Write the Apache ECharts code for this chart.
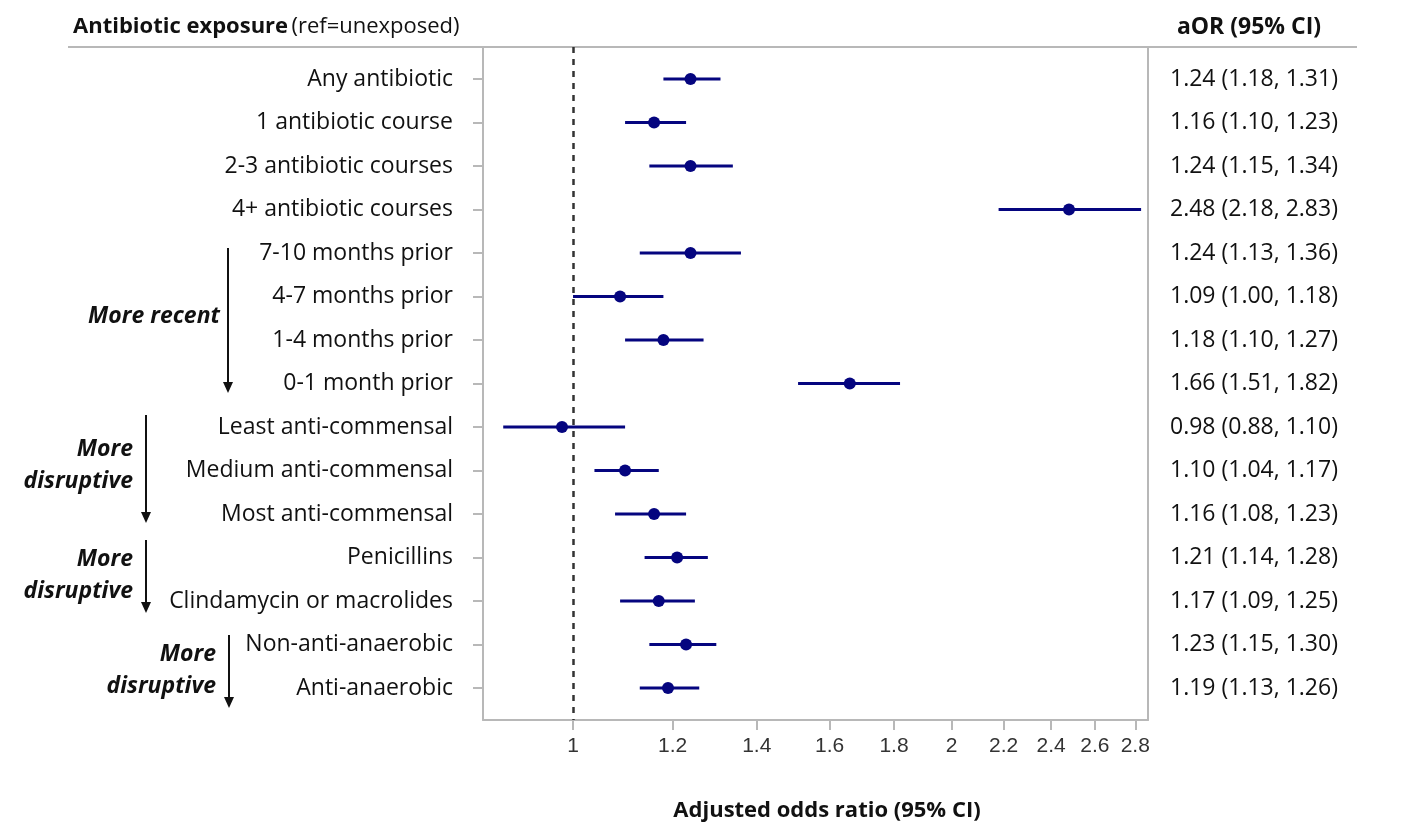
<!DOCTYPE html>
<html>
<head>
<meta charset="utf-8">
<script src="https://cdn.jsdelivr.net/npm/echarts@6/dist/echarts.min.js"></script>
<style>html,body{margin:0;padding:0;background:#fff}#c{width:1410px;height:838px}</style>
</head>
<body>
<div id="c"></div>
<script>
const categories = ["Any antibiotic","1 antibiotic course","2-3 antibiotic courses","4+ antibiotic courses","7-10 months prior","4-7 months prior","1-4 months prior","0-1 month prior","Least anti-commensal","Medium anti-commensal","Most anti-commensal","Penicillins","Clindamycin or macrolides","Non-anti-anaerobic","Anti-anaerobic"];
const aor   = [1.24,1.16,1.24,2.48,1.24,1.09,1.18,1.66,0.98,1.10,1.16,1.21,1.17,1.23,1.19];
const lower = [1.18,1.10,1.15,2.18,1.13,1.00,1.10,1.51,0.88,1.04,1.08,1.14,1.09,1.15,1.13];
const upper = [1.31,1.23,1.34,2.83,1.36,1.18,1.27,1.82,1.10,1.17,1.23,1.28,1.25,1.30,1.26];
const xTicks = [1,1.2,1.4,1.6,1.8,2,2.2,2.4,2.6,2.8];
const xMin = 0.848, xMax = 2.866;

const fmt = v => v.toFixed(2);
const ln = Math.log;
const rows = categories.map((_, i) => i);
const FONT = 'Open Sans';
const FS = 23;
const NAVY = '#05057f';
const GRAY = '#b8b8b8';

const chart = echarts.init(document.getElementById('c'));
const bi = {fontFamily: FONT, fontWeight: 'bold', fontStyle: 'italic', fontSize: FS, fill: '#111', verticalAlign: 'middle'};
chart.setOption({
  animation: false,
  grid: {left: 483, right: 262, top: 47, bottom: 118, containLabel: false},
  xAxis: {
    type: 'value', min: ln(xMin), max: ln(xMax),
    axisLine: {show: true, onZero: false, lineStyle: {color: GRAY, width: 2}},
    axisTick: {show: true, length: 10, lineStyle: {color: GRAY, width: 2}, customValues: xTicks.map(ln)},
    axisLabel: {customValues: xTicks.map(ln), formatter: v => String(Math.round(Math.exp(v) * 10) / 10),
      color: '#333', fontSize: 21, fontFamily: 'Liberation Sans', margin: 16},
    splitLine: {show: false}
  },
  yAxis: [{
    type: 'value', min: -0.736, max: 14.736, inverse: true,
    axisLine: {show: true, onZero: false, lineStyle: {color: GRAY, width: 2}},
    axisTick: {show: true, length: 10, lineStyle: {color: GRAY, width: 2}, customValues: rows},
    axisLabel: {customValues: rows, formatter: v => categories[Math.round(v)] || '',
      color: '#111', fontSize: FS, fontFamily: FONT, margin: 30},
    splitLine: {show: false}
  }, {
    type: 'value', position: 'right', min: -0.736, max: 14.736, inverse: true,
    axisLine: {show: true, onZero: false, lineStyle: {color: GRAY, width: 2}},
    axisTick: {show: false, customValues: rows},
    axisLabel: {customValues: rows, formatter: v => { const i = Math.round(v); return fmt(aor[i]) + ' (' + fmt(lower[i]) + ', ' + fmt(upper[i]) + ')'; },
      color: '#111', fontSize: FS, fontFamily: FONT, margin: 22, align: 'left'},
    splitLine: {show: false}
  }],
  series: [{
    type: 'custom',
    data: rows.map(i => [ln(lower[i]), ln(upper[i]), i]),
    renderItem: (params, api) => {
      const a = api.coord([api.value(0), api.value(2)]);
      const b = api.coord([api.value(1), api.value(2)]);
      return {type: 'line', shape: {x1: a[0], y1: a[1], x2: b[0], y2: b[1]}, style: {stroke: NAVY, lineWidth: 3}};
    },
    encode: {x: [0, 1], y: 2},
    z: 2
  }, {
    type: 'scatter',
    data: rows.map(i => [ln(aor[i]), i]),
    symbol: 'circle', symbolSize: 12,
    itemStyle: {color: NAVY, opacity: 1},
    z: 3,
    markLine: {
      silent: true, symbol: 'none', label: {show: false},
      lineStyle: {color: '#333', type: [6, 6], width: 2.5},
      data: [{xAxis: 0}]
    }
  }],
  graphic: [
    {type: 'line', shape: {x1: 68, y1: 47, x2: 1357, y2: 47}, style: {stroke: GRAY, lineWidth: 2}},
    {type: 'text', x: 73, y: 27, style: {text: '{b|Antibiotic exposure} {n|(ref=unexposed)}', verticalAlign: 'middle',
      rich: {b: {fontFamily: FONT, fontWeight: 'bold', fontSize: 22, fill: '#111'}, n: {fontFamily: FONT, fontSize: 22, fill: '#111'}}}},
    {type: 'text', x: 1249, y: 27, style: {text: 'aOR (95% CI)', align: 'center', verticalAlign: 'middle', fontFamily: FONT, fontWeight: 'bold', fontSize: FS, fill: '#111'}},
    {type: 'text', x: 827, y: 811, style: {text: 'Adjusted odds ratio (95% CI)', align: 'center', verticalAlign: 'middle', fontFamily: FONT, fontWeight: 'bold', fontSize: 22, fill: '#111'}},
    // group annotations
    {type: 'text', x: 220, y: 316, style: Object.assign({text: 'More recent', align: 'right'}, bi)},
    {type: 'line', shape: {x1: 228, y1: 248, x2: 228, y2: 384}, style: {stroke: '#111', lineWidth: 2}},
    {type: 'polygon', shape: {points: [[223, 382], [233, 382], [228, 393]]}, style: {fill: '#111'}},

    {type: 'text', x: 133, y: 449, style: Object.assign({text: 'More', align: 'right'}, bi)},
    {type: 'text', x: 133, y: 481, style: Object.assign({text: 'disruptive', align: 'right'}, bi)},
    {type: 'line', shape: {x1: 146, y1: 415, x2: 146, y2: 514}, style: {stroke: '#111', lineWidth: 2}},
    {type: 'polygon', shape: {points: [[141, 512], [151, 512], [146, 523]]}, style: {fill: '#111'}},

    {type: 'text', x: 133, y: 559, style: Object.assign({text: 'More', align: 'right'}, bi)},
    {type: 'text', x: 133, y: 591, style: Object.assign({text: 'disruptive', align: 'right'}, bi)},
    {type: 'line', shape: {x1: 146, y1: 540, x2: 146, y2: 604}, style: {stroke: '#111', lineWidth: 2}},
    {type: 'polygon', shape: {points: [[141, 602], [151, 602], [146, 613]]}, style: {fill: '#111'}},

    {type: 'text', x: 216, y: 654, style: Object.assign({text: 'More', align: 'right'}, bi)},
    {type: 'text', x: 216, y: 686, style: Object.assign({text: 'disruptive', align: 'right'}, bi)},
    {type: 'line', shape: {x1: 229, y1: 635, x2: 229, y2: 699}, style: {stroke: '#111', lineWidth: 2}},
    {type: 'polygon', shape: {points: [[224, 697], [234, 697], [229, 708]]}, style: {fill: '#111'}}
  ]
});
</script>
</body>
</html>
